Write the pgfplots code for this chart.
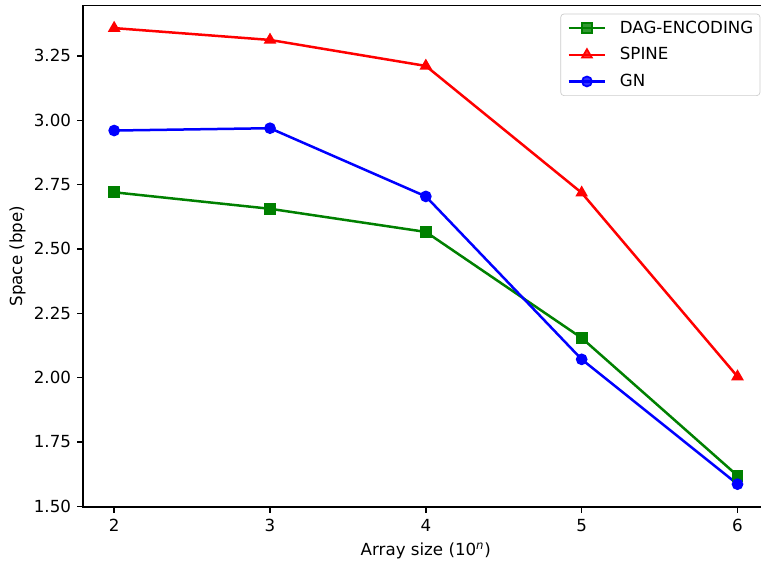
\documentclass[border=0pt]{standalone}
\usepackage{fontspec}
\setmainfont{DejaVu Sans}
\usepackage{pgfplots}
\pgfplotsset{compat=1.18}
\definecolor{mplgreen}{RGB}{0,128,0}
\definecolor{mplred}{RGB}{255,0,0}
\definecolor{mplblue}{RGB}{0,0,255}
\begin{document}
\begin{tikzpicture}[font=\fontsize{10pt}{12pt}\selectfont]
\begin{axis}[
  scale only axis,
  width=411.4pt, height=301.0pt,
  xmin=1.8, xmax=6.2, ymin=1.4974, ymax=3.4466,
  xtick={2,3,4,5,6},
  ytick={1.5,1.75,2,2.25,2.5,2.75,3,3.25},
  tick align=outside,
  tick pos=left,
  major tick length=3.5pt,
  every tick/.style={black, line width=0.8pt},
  axis line style={black, line width=0.8pt},
  /pgf/number format/assume math mode=true,
  xticklabel style={inner sep=0pt},
  yticklabel style={inner sep=0pt, /pgf/number format/.cd, fixed, fixed zerofill, precision=2},
  xticklabel shift=3.5pt,
  yticklabel shift=3.5pt,
  xlabel={Array size (10\textsuperscript{\itshape n})},
  ylabel={Space (bpe)},
  xlabel style={at={(axis description cs:0.5,-0.0881)}, anchor=center, inner sep=0pt},
  ylabel style={at={(axis description cs:-0.0955,0.5)}, anchor=center, inner sep=0pt},
  legend cell align=left,
  legend style={
    at={(axis description cs:1,1)}, anchor=north east,
    xshift=-5pt, yshift=-5pt,
    draw=black!20, fill=white, fill opacity=0.8, text opacity=1,
    rounded corners=2pt,
    inner xsep=4pt, inner ysep=3.5pt,
    row sep=6pt, column sep=8pt,
    nodes={inner sep=0pt, text height=8pt, text depth=2pt},
  },
  legend image code/.code={%
    \draw[mark repeat=2,mark phase=2,#1] plot coordinates {(0pt,0pt) (11pt,0pt) (22pt,0pt)};%
  },
]
\addplot[color=mplgreen, line width=1.5pt, mark=square*, mark size=3pt, mark options={solid, line width=1pt}]
  coordinates {(2,2.720) (3,2.656) (4,2.566) (5,2.154) (6,1.619)};
\addlegendentry{DAG-ENCODING}
\addplot[color=mplred, line width=1.5pt, mark=triangle*, mark size=3.4pt, mark options={solid, line width=1pt}]
  coordinates {(2,3.358) (3,3.312) (4,3.211) (5,2.718) (6,2.004)};
\addlegendentry{SPINE}
\addplot[color=mplblue, line width=1.5pt, mark=*, mark size=3pt, mark options={solid, line width=1pt}]
  coordinates {(2,2.960) (3,2.969) (4,2.704) (5,2.071) (6,1.586)};
\addlegendentry{GN}
\end{axis}
\pgfresetboundingbox
\path[use as bounding box] ([xshift=-49.8pt,yshift=-35.52pt]current axis.south west) rectangle ([xshift=406.8pt,yshift=3.18pt]current axis.north west);
\end{tikzpicture}
\end{document}
